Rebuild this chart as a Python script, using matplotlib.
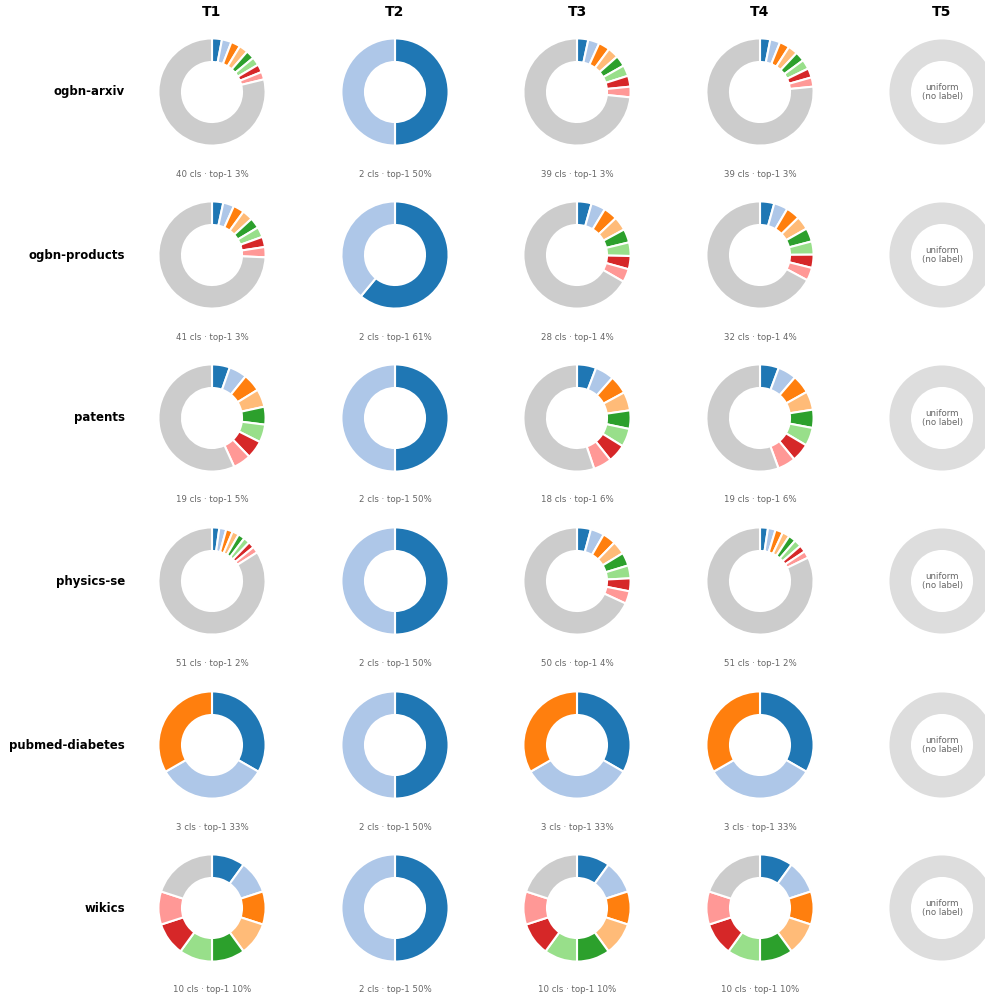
import numpy as np
import matplotlib.pyplot as plt

# datasets (rows) and task columns
datasets = ['ogbn-arxiv', 'ogbn-products', 'patents', 'physics-se', 'pubmed-diabetes', 'wikics']
tasks = ['T1', 'T2', 'T3', 'T4', 'T5']

# number of classes per dataset / task (T5 has no labels)
n_classes = [
    [40, 2, 39, 39],
    [41, 2, 28, 32],
    [19, 2, 18, 19],
    [51, 2, 50, 51],
    [3, 2, 3, 3],
    [10, 2, 10, 10],
]

# class shares in % (top classes shown, the rest goes into "other")
arxiv_t1 = [3.0, 2.9, 2.8, 2.7, 2.6, 2.5, 2.4, 2.3]
arxiv_t3 = [3.4, 3.4, 3.4, 3.3, 3.3, 3.3, 3.3, 3.2]
arxiv_t4 = [3.1, 3.0, 3.0, 2.9, 2.9, 2.9, 2.8, 2.8]
products_t1 = [3.4, 3.3, 3.3, 3.2, 3.2, 3.1, 3.1, 3.1]
products_t3 = [4.4, 4.3, 4.2, 4.2, 4.1, 4.1, 4.0, 4.0]
products_t4 = [4.3, 4.2, 4.2, 4.1, 4.1, 4.0, 4.0, 3.9]
patents_t1 = [5.4, 5.4, 5.4, 5.4, 5.4, 5.4, 5.4, 5.4]
patents_t3 = [5.8, 5.7, 5.6, 5.6, 5.6, 5.5, 5.5, 5.5]
patents_t4 = [5.7, 5.6, 5.6, 5.6, 5.5, 5.5, 5.5, 5.4]
physics_t1 = [2.2, 2.1, 2.0, 2.0, 2.0, 1.9, 1.9, 1.9]
physics_t3 = [4.2, 4.1, 4.0, 4.0, 4.0, 3.9, 3.9, 3.8]
physics_t4 = [2.4, 2.3, 2.3, 2.2, 2.2, 2.2, 2.1, 2.1]
pubmed_3 = [33.3, 33.4, 33.3]
wikics_10 = [10, 10, 10, 10, 10, 10, 10, 10]
two_class = [50, 50]
products_t2 = [61, 39]

shares = [
    [arxiv_t1, two_class, arxiv_t3, arxiv_t4],
    [products_t1, products_t2, products_t3, products_t4],
    [patents_t1, two_class, patents_t3, patents_t4],
    [physics_t1, two_class, physics_t3, physics_t4],
    [pubmed_3, two_class, pubmed_3, pubmed_3],
    [wikics_10, two_class, wikics_10, wikics_10],
]

palette = ['#1f77b4', '#aec7e8', '#ff7f0e', '#ffbb78',
           '#2ca02c', '#98df8a', '#d62728', '#ff9896']
OTHER = '#cccccc'
UNIFORM = '#dddddd'

W, H = 985, 998
fig = plt.figure(figsize=(W / 100, H / 100), dpi=100)

col_x = [212, 395, 577, 760, 942]
row_y = [92, 255, 418, 581, 745, 908]
box = 120  # axes size in px
lim = 1.12


def fx(x):
    return x / W


def fy(y):
    return 1 - y / H


for j, t in enumerate(tasks):
    fig.text(fx(col_x[j]), fy(12), t, ha='center', va='center',
             fontsize=10, fontweight='bold')

for i, name in enumerate(datasets):
    fig.text(fx(125), fy(row_y[i]), name, ha='right', va='center',
             fontsize=8.5, fontweight='bold')
    for j in range(len(tasks)):
        cx, cy = col_x[j], row_y[i]
        ax = fig.add_axes([fx(cx - box / 2), fy(cy + box / 2), box / W, box / H])
        ax.axis('off')
        wp = dict(width=0.44, edgecolor='white', linewidth=1.5)
        if j == 4:
            ax.pie([1], colors=[UNIFORM], startangle=90, wedgeprops=wp)
            ax.text(0, 0, 'uniform\n(no label)', ha='center', va='center',
                    fontsize=6.2, color='#666666', linespacing=1.0)
        else:
            vals = list(shares[i][j])
            cols = palette[:len(vals)]
            rest = 100 - sum(vals)
            if rest > 0.5:
                vals.append(rest)
                cols = cols + [OTHER]
            ax.pie(vals, colors=cols, startangle=90, counterclock=False, wedgeprops=wp)
            top1 = max(shares[i][j])
            fig.text(fx(cx), fy(cy + 82),
                     f'{n_classes[i][j]} cls \u00b7 top-1 {top1:.0f}%',
                     ha='center', va='center', fontsize=6.2, color='#666666')
        ax.set_xlim(-lim, lim)
        ax.set_ylim(-lim, lim)
        ax.set_aspect('equal')

fig.savefig('out.png', dpi=100)
